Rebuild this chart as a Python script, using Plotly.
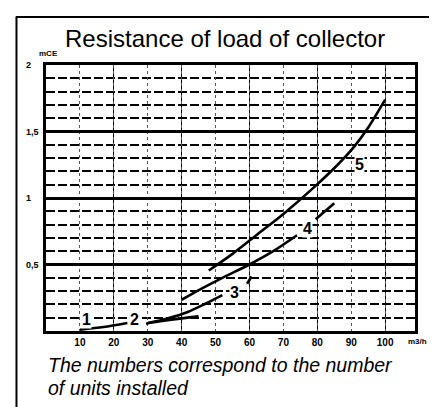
import plotly.graph_objects as go

# ---- data ----
c1_x = [10, 17, 24]
c1_y = [0.01, 0.03, 0.06]
c2_x = [30, 37, 45]
c2_y = [0.06, 0.085, 0.11]
c3_x = [29.5, 36, 42, 47, 52, None, 59.3, 60.6]
c3_y = [0.055, 0.095, 0.145, 0.205, 0.27, None, 0.355, 0.41]
c4_x = [40, 44.5, 52, 60, 67, 74, None, 79.5, 85]
c4_y = [0.235, 0.30, 0.40, 0.50, 0.60, 0.72, None, 0.84, 0.96]
c5_x = [48, 55, 62, 70, 79, 86, 91, 95, 100]
c5_y = [0.455, 0.58, 0.72, 0.88, 1.08, 1.25, 1.39, 1.53, 1.74]

curve_labels = ["1", "2", "3", "4", "5"]
label_x = [12, 26, 55.5, 77, 92.3]
label_y = [0.085, 0.085, 0.29, 0.77, 1.25]

x_ticks = [10, 20, 30, 40, 50, 60, 70, 80, 90, 100]
x_major = [20, 40, 60, 80, 100]
y_ticks = [2, 1.5, 1, 0.5]
y_ticktext = ["2", "1,5", "1", "0,5"]

title = "Resistance of load of collector"
note_line1 = "The numbers correspond to the number"
note_line2 = "of units installed"

FONT = "Liberation Sans, Arial, sans-serif"

fig = go.Figure()
for xs, ys in [(c1_x, c1_y), (c2_x, c2_y), (c3_x, c3_y), (c4_x, c4_y), (c5_x, c5_y)]:
    fig.add_trace(go.Scatter(x=xs, y=ys, mode="lines",
                             line=dict(color="black", width=2.6, shape="spline", smoothing=0.8),
                             connectgaps=False, showlegend=False, hoverinfo="skip"))

annotations = []
for t, lx, ly in zip(curve_labels, label_x, label_y):
    annotations.append(dict(x=lx, y=ly, xref="x", yref="y", text=f"<b>{t}</b>",
                            showarrow=False, font=dict(family=FONT, size=16, color="black"),
                            bgcolor="white", borderpad=0))
for v, t in zip(y_ticks, y_ticktext):
    annotations.append(dict(x=-0.06, y=v, xref="paper", yref="y", text=f"<b>{t}</b>",
                            showarrow=False, xanchor="left", yanchor="middle",
                            font=dict(family=FONT, size=9, color="black")))
annotations += [
    dict(x=0.008, y=1.045, xref="paper", yref="paper", text="<b>mCE</b>", showarrow=False,
         xanchor="center", yanchor="middle", font=dict(family=FONT, size=8, color="black")),
    dict(x=1.038, y=-0.038, xref="paper", yref="paper", text="<b>m3/h</b>", showarrow=False,
         xanchor="right", yanchor="middle", font=dict(family=FONT, size=8, color="black")),
    dict(x=0.0, y=-0.128, xref="paper", yref="paper", text=f"<i>{note_line1}</i>", showarrow=False,
         xanchor="left", yanchor="middle", font=dict(family=FONT, size=19.5, color="black")),
    dict(x=0.0, y=-0.214, xref="paper", yref="paper", text=f"<i>{note_line2}</i>", showarrow=False,
         xanchor="left", yanchor="middle", font=dict(family=FONT, size=19.5, color="black")),
]

fig.update_layout(
    width=437, height=407,
    margin=dict(l=38, r=30, t=57, b=84),
    paper_bgcolor="white", plot_bgcolor="white",
    title=dict(text=title, x=57/437, xanchor="left", y=1 - 31/407, yanchor="middle",
               xref="container", yref="container",
               font=dict(family=FONT, size=24, color="black")),
    annotations=annotations,
    shapes=[
        dict(type="line", xref="paper", yref="paper", x0=-0.080, x1=-0.080, y0=1.180, y1=-0.32,
             line=dict(color="black", width=2)),
        dict(type="line", xref="paper", yref="paper", x0=-0.082, x1=1.09, y0=1.180, y1=1.180,
             line=dict(color="black", width=2)),
    ],
    showlegend=False,
)

fig.update_xaxes(
    range=[0, 108.8], tickmode="array", tickvals=x_ticks, ticktext=[f"<b>{v}</b>" for v in x_ticks],
    tickfont=dict(family=FONT, size=10, color="black"), ticks="",
    showgrid=True, gridcolor="#555", gridwidth=1, griddash="dot",
    minor=dict(tickmode="array", tickvals=x_major, showgrid=True, gridcolor="black",
               gridwidth=1.3, griddash="solid", ticks=""),
    showline=True, linecolor="black", linewidth=3, mirror=True, zeroline=False,
)
fig.update_yaxes(
    range=[0, 2], tickmode="array", tickvals=y_ticks, showticklabels=False, ticks="",
    showgrid=True, gridcolor="black", gridwidth=3,
    minor=dict(dtick=0.1, tick0=0, showgrid=True, gridcolor="black", gridwidth=1.8,
               griddash="9px,3px", ticks=""),
    showline=True, linecolor="black", linewidth=3, mirror=True, zeroline=False,
)

fig.write_html("out.html")
